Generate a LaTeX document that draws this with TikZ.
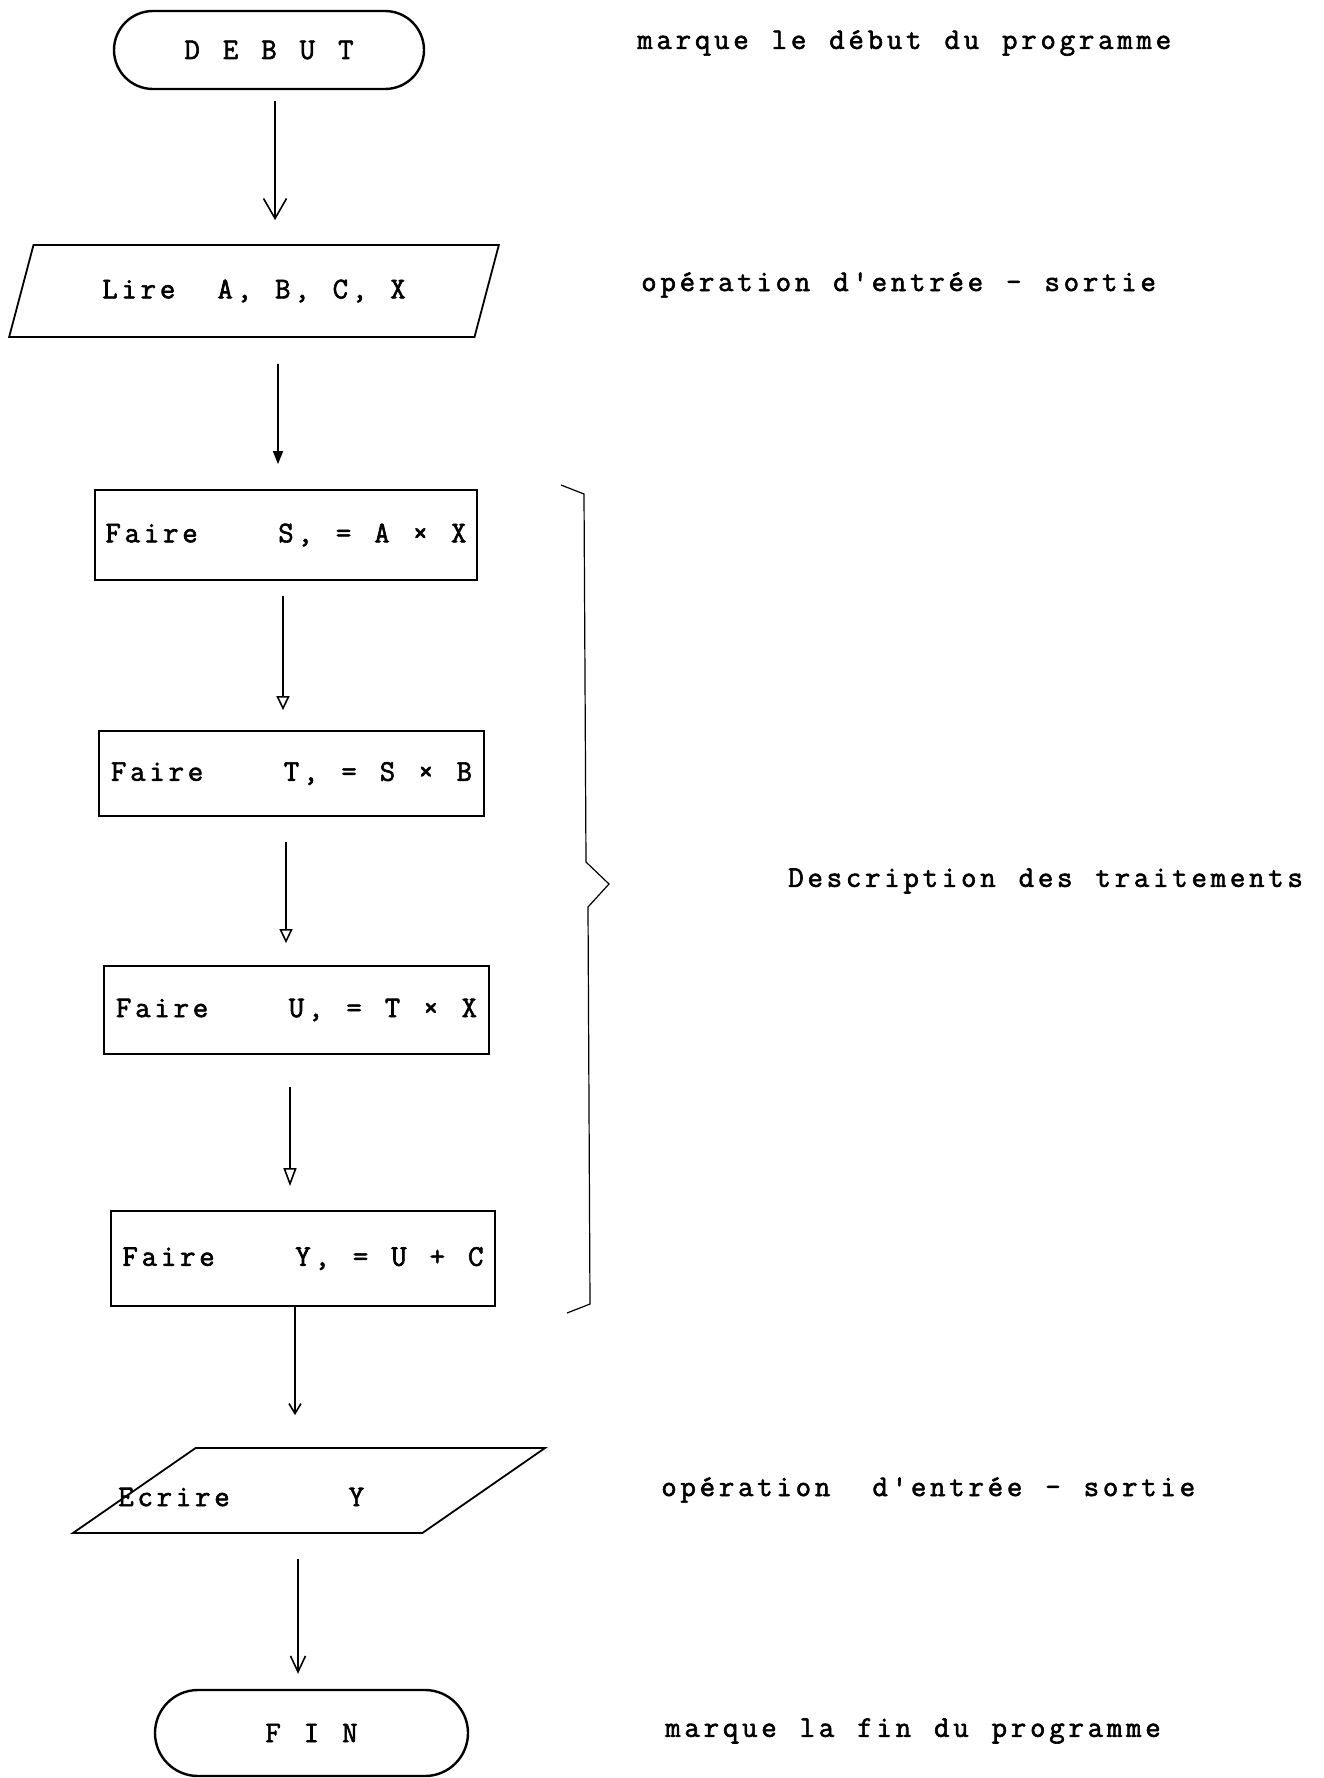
\documentclass[tikz,border=0pt]{standalone}
\usepackage{fontspec}
\newfontfamily\twfont{Latin Modern Mono}[FakeBold=2]
\usetikzlibrary{shapes.misc,shapes.geometric,arrows.meta}

% typewriter text: every character (~ for a space) on a fixed pitch
\newlength\twpitch
\setlength\twpitch{9.6pt}
\def\typew#1{\typewloop#1\relax}
\def\typewloop#1{\ifx#1\relax\else\makebox[\twpitch]{#1}\expandafter\typewloop\fi}

\begin{document}
\begin{tikzpicture}[x=0.5pt,y=-0.5pt,
  every node/.style={font=\twfont\fontsize{15}{17}\selectfont, inner sep=0pt},
  term/.style={draw, line width=1.2pt, rounded rectangle},
  iobox/.style={draw, line width=0.9pt, trapezium, trapezium stretches=true},
  procbox/.style={draw, line width=0.9pt, rectangle},
  note/.style={anchor=west},
  flow/.style={line width=0.8pt},
  brace/.style={line width=0.6pt}
]
% page
\fill[white] (0,0) rectangle (1323,1778);
\useasboundingbox (0,0) rectangle (1323,1778);

% flowchart symbols
\node[term, minimum width=155pt, minimum height=39pt] (debut) at (269,50)
      {\raisebox{-3pt}{\typew{D~E~B~U~T}}};
\node[iobox, minimum width=245pt, minimum height=46pt,
      trapezium left angle=53.5, trapezium right angle=126.5] (lire) at (254,291)
      {\typew{Lire~~A,~B,~C,~X}};
\node[procbox, minimum width=191pt, minimum height=45pt] (bs) at (286,535)
      {\typew{Faire~~~~S,~=~A~×~X}};
\node[procbox, minimum width=192.5pt, minimum height=42.5pt] (bt) at (291.5,773.5)
      {\typew{Faire~~~~T,~=~S~×~B}};
\node[procbox, minimum width=192.5pt, minimum height=44pt] (bu) at (296.5,1010)
      {\typew{Faire~~~~U,~=~T~×~X}};
\node[procbox, minimum width=192pt, minimum height=47.5pt] (by) at (303,1258.5)
      {\typew{Faire~~~~Y,~=~U~+~C}};
\node[iobox, inner sep=2pt, minimum width=236pt, minimum height=42.5pt,
      trapezium left angle=61.6, trapezium right angle=118.4] (ecrire) at (309,1490.5) {};
\node[anchor=west] (ecrtxt) at (116,1497) {\typew{Ecrire~~~~~~Y}};
\node[term, minimum width=156.5pt, minimum height=43pt] (fin) at (311.5,1733)
      {\raisebox{-2pt}{\typew{F~I~N}}};

% connectors
\draw[flow, -{Straight Barb[length=10pt,width=11.5pt]}]
  ([shift={(6,11)}]debut.south) -- ([shift={(21,-24)}]lire.north);
\draw[flow, -{Triangle[length=6.5pt,width=5pt]}]
  ([shift={(24,26)}]lire.south) -- ([shift={(-8,-25)}]bs.north);
\draw[flow, -{Triangle[open,length=7pt,width=6.5pt]}]
  ([shift={(-3,15)}]bs.south) -- ([shift={(-8.5,-20)}]bt.north);
\draw[flow, -{Triangle[open,length=7pt,width=6.5pt]}]
  ([shift={(-5.5,25)}]bt.south) -- ([shift={(-10.5,-22)}]bu.north);
\draw[flow, -{Triangle[open,length=9pt,width=6.5pt]}]
  ([shift={(-6.5,32)}]bu.south) -- ([shift={(-13,-24)}]by.north);
\draw[flow, -{Straight Barb[length=5pt,width=6pt]}]
  ([shift={(-8,0)}]by.south) -- ([shift={(-14,-32)}]ecrire.north);
\draw[flow, -{Straight Barb[length=8pt,width=7.5pt]}]
  ([shift={(-11,25)}]ecrire.south) -- ([shift={(-13.5,-15)}]fin.north);

% brace grouping the processing steps
\draw[brace] (561,485) -- (584,494) -- (586,862) -- (609,884) -- (588,907)
  -- (590,1304) -- (567,1313);

% annotations
\node[note] (n1) at (635,43) {\typew{marque~le~début~du~programme}};
\node[note] (n2) at (639,285) {\typew{opération~d'entrée~-~sortie}};
\node[note] (n3) at (786,881) {\typew{Description~des~traitements}};
\node[note] (n4) at (659,1490) {\typew{opération~~d'entrée~-~sortie}};
\node[note] (n5) at (663,1731) {\typew{marque~la~fin~du~programme}};
\end{tikzpicture}
\end{document}
